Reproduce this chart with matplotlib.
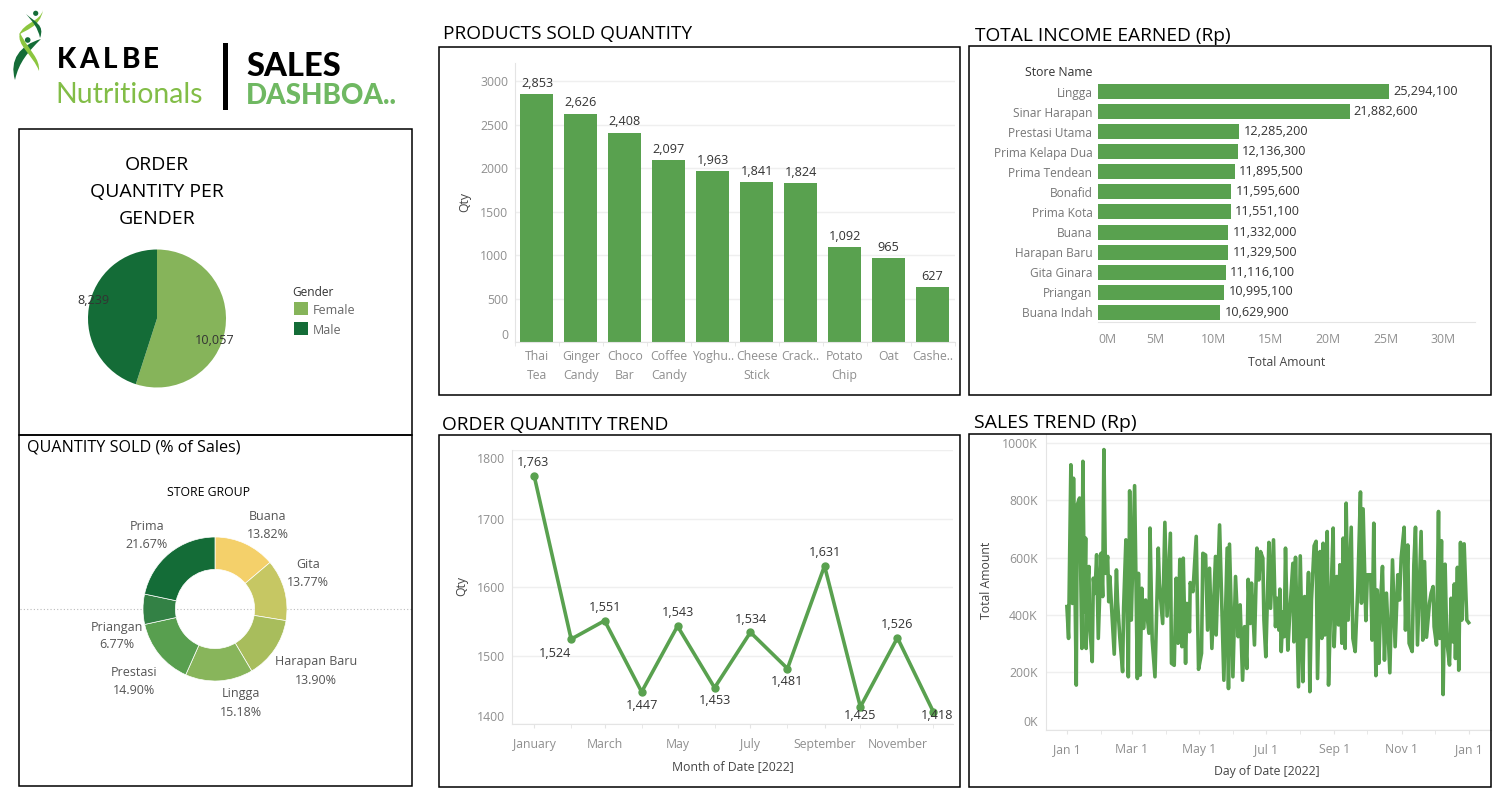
import matplotlib
matplotlib.use("Agg")
import matplotlib.pyplot as plt
from matplotlib.patches import Rectangle, Circle, PathPatch
from matplotlib.path import Path
from matplotlib.ticker import FuncFormatter

plt.rcParams['font.family'] = ['Open Sans', 'DejaVu Sans']

W, H = 1499, 799
GREEN = '#59a14f'
TICK = '#8f8f8f'
LABEL = '#444444'
GRID = '#efefef'
AXIS = '#e4e4e4'

# data
genders = ['Female', 'Male']
gender_qty = [10057, 8239]
gender_colors = ['#86b45a', '#146c37']

store_groups = ['Buana', 'Gita', 'Harapan Baru', 'Lingga', 'Prestasi', 'Priangan', 'Prima']
store_share = [13.82, 13.77, 13.90, 15.18, 14.90, 6.77, 21.67]
store_colors = ['#f4d06a', '#c6c763', '#a8bd5c', '#88b55b', '#589f4f', '#338145', '#146c37']

products = ['Thai\nTea', 'Ginger\nCandy', 'Choco\nBar', 'Coffee\nCandy', 'Yoghu..', 'Cheese\nStick',
            'Crack..', 'Potato\nChip', 'Oat', 'Cashe..']
product_qty = [2853, 2626, 2408, 2097, 1963, 1841, 1824, 1092, 965, 627]

stores = ['Lingga', 'Sinar Harapan', 'Prestasi Utama', 'Prima Kelapa Dua', 'Prima Tendean', 'Bonafid',
          'Prima Kota', 'Buana', 'Harapan Baru', 'Gita Ginara', 'Priangan', 'Buana Indah']
store_income = [25294100, 21882600, 12285200, 12136300, 11895500, 11595600,
                11551100, 11332000, 11329500, 11116100, 10995100, 10629900]

months = ['January', 'February', 'March', 'April', 'May', 'June', 'July', 'August',
          'September', 'October', 'November', 'December']
month_start = [0, 31, 59, 90, 120, 151, 181, 212, 243, 273, 304, 334]
month_qty = [1763, 1524, 1551, 1447, 1543, 1453, 1534, 1481, 1631, 1425, 1526, 1418]

# dia do ano e valor em milhares
sales_day = [0, 1.5, 3.6, 5, 6, 8.5, 9.4, 11.5, 13.6, 14.5, 16, 17, 17.5, 18.5, 20, 20.6, 23, 24, 25.5, 27,
             28.5, 31, 32.5, 33.6, 35, 37, 38, 39, 43, 45, 46, 48, 50.6, 51.5, 53.6, 55.8, 57, 58.5, 61.5, 64,
             65, 66.6, 68, 69.6, 71.5, 74.5, 75.5, 77.5, 80, 83, 84, 87, 89, 91, 94, 95, 97.5, 99.3, 101, 102.6,
             104.5, 105.7, 107.8, 109, 111.4, 112, 114.5, 117.5, 119.6, 122.3, 123.5, 126, 127.8, 129.6, 131.7, 135, 135.6, 138.7, 140, 142.6,
             145.6, 146.8, 147.7, 150.8, 153.2, 155.6, 157.4, 159.6, 161.4, 163.5, 164.7, 166.5, 167.7, 170.4, 172.6, 174.4, 175.9, 178, 179, 180.7,
             183.5, 185, 187.7, 189.5, 191, 192.6, 193.5, 194.7, 196.2, 197.4, 198.6, 200.7, 202.3, 205.3, 206.2, 207.7, 210.4, 212, 214.4, 215.9,
             217.4, 219.5, 220.7, 222.2, 224.6, 226.4, 227.7, 230, 231.6, 232.8, 234.3, 236.5, 237.7, 239.5, 241.9, 242.8, 245.2, 246.8, 248, 249.8,
             251, 252.8, 253.7, 255.5, 258.3, 259.8, 261.9, 264.3, 266.7, 267.6, 269.1, 271.6, 273, 276, 277.3, 278.8, 280.7, 281.9, 283.4, 285.2,
             286.7, 288.5, 290.3, 293.4, 295.8, 298.2, 300.6, 302.2, 303.7, 306.4, 307.6, 309.7, 310.9, 313.7, 315.2, 316.7, 318.5, 321.8, 323.3, 324.9,
             326.7, 329.4, 330.9, 332.7, 333.6, 335.8, 337.6, 338.8, 340.3, 341.8, 343.6, 345.1, 347.6, 349, 350.6, 352, 353, 354.8, 356, 357.6,
             358.8, 360.9, 363.3, 365]
sales_amount = [429, 318, 924, 440, 877, 155, 784, 808, 283, 936, 411, 668, 283, 499, 569, 370, 237, 528, 475, 610,
                318, 615, 464, 977, 545, 604, 446, 534, 263, 557, 446, 324, 202, 423, 662, 184, 833, 382, 851, 178,
                545, 190, 493, 353, 452, 336, 703, 312, 184, 633, 510, 370, 723, 396, 685, 231, 224, 528, 301, 594,
                289, 598, 231, 440, 341, 513, 481, 674, 210, 266, 615, 609, 347, 563, 283, 604, 330, 714, 534, 172,
                633, 143, 647, 184, 534, 324, 435, 172, 359, 213, 524, 370, 511, 295, 633, 522, 621, 598, 382, 254,
                653, 423, 662, 359, 458, 347, 490, 272, 411, 324, 633, 277, 394, 580, 306, 601, 149, 606, 167, 464,
                324, 548, 132, 452, 641, 657, 178, 621, 318, 650, 330, 691, 155, 411, 703, 289, 534, 365, 575, 301,
                668, 283, 790, 382, 706, 318, 272, 499, 829, 441, 770, 380, 540, 540, 312, 720, 188, 487, 231, 464,
                569, 242, 476, 198, 592, 289, 540, 452, 600, 706, 347, 644, 301, 272, 575, 706, 295, 691, 312, 586,
                322, 441, 476, 499, 359, 295, 761, 318, 659, 122, 577, 312, 225, 458, 306, 508, 248, 566, 207, 653,
                382, 648, 382, 373]
day_ticks = [0, 59, 120, 181, 243, 304, 365]
day_labels = ['Jan 1', 'Mar 1', 'May 1', 'Jul 1', 'Sep 1', 'Nov 1', 'Jan 1']

fig = plt.figure(figsize=(W / 100, H / 100), dpi=100, facecolor='white')


def ax_px(x0, y0, x1, y1, **kw):
    # eixo posicionado em pixels da imagem
    return fig.add_axes([x0 / W, 1 - y1 / H, (x1 - x0) / W, (y1 - y0) / H], **kw)


def clean(ax):
    ax.set_facecolor('none')
    for s in ax.spines.values():
        s.set_visible(False)
    for s in ['left', 'bottom']:
        ax.spines[s].set_visible(True)
        ax.spines[s].set_color(AXIS)
        ax.spines[s].set_linewidth(0.8)
    ax.set_axisbelow(True)
    ax.tick_params(length=0, labelsize=8.8, labelcolor=TICK)


# camada de fundo com molduras e textos
bg = ax_px(0, 0, W, H)
bg.set_xlim(0, W)
bg.set_ylim(H, 0)
bg.axis('off')
bg.set_zorder(5)


def txt(x, y, s, size=8.8, color=LABEL, ha='left', va='center', **kw):
    bg.text(x, y + 2, s, fontsize=size, color=color, ha=ha, va=va, **kw)


for (x0, y0, x1, y1) in [(19.5, 128.5, 412.5, 434.5), (19.5, 434.5, 412.5, 785.5), (439.5, 46.5, 960.5, 394.5),
                         (969.5, 45.5, 1491.5, 394.5), (439.5, 434.5, 960.5, 786.5), (969.5, 433.5, 1491.5, 786.5)]:
    bg.add_patch(Rectangle((x0, y0), x1 - x0, y1 - y0, fill=False, ec='black', lw=1.1))

txt(443, 32, 'PRODUCTS SOLD QUANTITY', 13.7, 'black')
txt(975, 34, 'TOTAL INCOME EARNED (Rp)', 13.8, 'black')
txt(442, 423, 'ORDER QUANTITY TREND', 13.8, 'black')
txt(974, 421, 'SALES TREND (Rp)', 14, 'black')
txt(27, 445, 'QUANTITY SOLD (% of Sales)', 11.6, 'black')

# logo e cabecalho
for letter, x in zip('KALBE', [57, 79, 103, 122, 143]):
    txt(x, 58, letter, 20, 'black', fontweight='black', family='Lato')
txt(55, 93, 'Nutritionals', 20.4, '#82bd47', family='Lato')
bg.add_patch(Rectangle((223, 43), 5, 67, fc='black', ec='none'))
txt(246, 64, 'SALES', 23.5, 'black', fontweight='black', family='Lato')
txt(246, 94, 'DASHBOA..', 20, '#6fb862', fontweight='black', family='Lato')


def swoosh(pts, color):
    codes = [Path.MOVETO] + [Path.CURVE4] * (len(pts) - 2) + [Path.CLOSEPOLY]
    bg.add_patch(PathPatch(Path(pts, codes), fc=color, ec='none'))


swoosh([(15, 80), (9, 60), (20, 45), (41, 39), (28, 52), (19, 62), (15, 80), (15, 80)], '#146c37')
swoosh([(39, 71), (40, 58), (30, 52), (20, 33), (16, 45), (33, 55), (39, 71), (39, 71)], '#8cc63f')
swoosh([(43, 10), (40, 22), (24, 22), (19, 35), (24, 30), (40, 28), (43, 10), (43, 10)], '#8cc63f')
swoosh([(26, 14), (35, 22), (45, 25), (40, 38), (38, 28), (33, 22), (26, 14), (26, 14)], '#146c37')
bg.add_patch(Circle((35.7, 13.3), 2.6, fc='#146c37', ec='none'))
bg.add_patch(Circle((27.7, 40), 2.8, fc='#146c37', ec='none'))

# pizza por genero
ax = ax_px(88, 249.5, 226, 387.5)
ax.pie(gender_qty, colors=gender_colors, startangle=90, counterclock=False, radius=1.0,
       wedgeprops={'linewidth': 0})
ax.set_xlim(-1, 1)
ax.set_ylim(-1, 1)
for i, line in enumerate(['ORDER', 'QUANTITY PER', 'GENDER']):
    txt(157, 163 + 27 * i, line, 14, 'black', ha='center')
txt(215, 339, f'{gender_qty[0]:,}', 9.1, '#333333', ha='center')
txt(93, 299, f'{gender_qty[1]:,}', 9.1, '#333333', ha='center')
txt(292, 290, 'Gender', 8.6, '#333333')
for i, (g, c) in enumerate(zip(genders, gender_colors)):
    bg.add_patch(Rectangle((294, 302 + 20 * i), 14, 13, fc=c, ec='none'))
    txt(313, 308 + 20 * i, g, 9, '#666666')

# rosca por grupo de loja
bg.plot([20, 412], [609, 609], color='#bbbbbb', lw=0.8, ls=(0, (1, 2)), zorder=0)
ax = ax_px(143, 537, 287, 681)
ax.pie(store_share, colors=store_colors, startangle=90, counterclock=False, radius=1.0,
       wedgeprops={'width': 0.45, 'linewidth': 0.5, 'edgecolor': 'white'})
ax.set_xlim(-1, 1)
ax.set_ylim(-1, 1)
ax.set_zorder(6)
txt(209, 490, 'STORE GROUP', 8.8, 'black', ha='center')
store_label_xy = [(268, 524), (308, 572), (316, 669), (241, 701), (134, 679), (117, 634), (147, 533)]
for name, share, (x, y) in zip(store_groups, store_share, store_label_xy):
    txt(x, y - 9, name, 9, '#555555', ha='center')
    txt(x, y + 9, f'{share:.2f}%', 9, '#555555', ha='center')

# barras de produtos
ax = ax_px(515, 63, 955, 342)
clean(ax)
bars = ax.bar(range(len(products)), product_qty, width=0.75, color=GREEN)
for b, v in zip(bars, product_qty):
    ax.annotate(f'{v:,}', (b.get_x() + b.get_width() / 2, v), xytext=(0, 7.6), textcoords='offset points',
                ha='center', va='center', fontsize=9.1, color='#333333', annotation_clip=False)
ax.set_xlim(-0.49, 9.51)
ax.set_ylim(0, 279 / 0.087)
ax.set_yticks(range(0, 3001, 500))
ax.grid(axis='y', color=GRID, lw=1)
ax.set_xticks(range(len(products)))
ax.set_xticklabels(products, linespacing=1.6)
ax.set_xticks([i - 0.5 for i in range(len(products) + 1)], minor=True)
ax.tick_params(axis='x', which='minor', length=3, color=AXIS)
ax.tick_params(axis='x', pad=6)
ax.tick_params(axis='y', pad=5)
ax.get_yticklabels()[0].set_va('bottom')
txt(465, 200, 'Qty', 8.8, '#444444', ha='center', rotation=90)

# barras horizontais de receita
ax = ax_px(1098, 82, 1475, 322)
clean(ax)
ax.spines['left'].set_visible(False)
pos = list(range(len(stores)))
ax.barh(pos, store_income, height=0.75, color=GREEN)
for p, v in zip(pos, store_income):
    ax.annotate(f'{v:,}', (v, p), xytext=(3, 0), textcoords='offset points', ha='left', va='center',
                fontsize=9.1, color='#333333')
ax.set_ylim(len(stores) - 0.5, -0.5)
ax.set_xlim(0, 377 / 11.5 * 1e6)
ax.set_yticks(pos)
ax.set_yticklabels(stores, fontsize=8.6)
ax.set_xticks([m * 1e6 for m in range(0, 31, 5)])
ax.xaxis.set_major_formatter(FuncFormatter(lambda v, _: f'{v / 1e6:.0f}M'))
ax.tick_params(axis='y', pad=4, labelcolor='#777777')
ax.tick_params(axis='x', pad=8)
ax.get_xticklabels()[0].set_ha('left')
txt(1092, 71, 'Store Name', 8.8, '#333333', ha='right')
txt(1287, 361, 'Total Amount', 8.8, '#444444', ha='center')

# tendencia mensal
ax = ax_px(512, 450.3, 953, 724)
clean(ax)
ax.plot(month_start, month_qty, color=GREEN, lw=2.6, marker='o', ms=5, clip_on=False, zorder=3)
ax.set_xlim(-18.5, 350.5)
ax.set_ylim(1400, 1800)
ax.set_yticks([1400, 1500, 1600, 1700, 1800])
ax.set_yticklabels(['1400', '1500', '1600', '1700', ''])
ax.grid(axis='y', color=GRID, lw=1)
ax.set_xticks(month_start[::2])
ax.set_xticklabels(months[::2])
ax.set_xticks(month_start[1::2], minor=True)
ax.tick_params(axis='x', which='both', length=3, color=AXIS)
ax.tick_params(axis='x', pad=7)
ax.tick_params(axis='y', pad=5)
ax.get_yticklabels()[0].set_va('bottom')
txt(505, 457.5, '1800', 8.8, TICK, ha='right')
# deslocamento dos rotulos em pontos (x, y)
month_label_off = [(-1, 9.5), (-12, -10), (0, 9.5), (0, -9.5), (0, 9.5), (0, -9.5),
                   (0, 9.5), (0, -9.5), (0, 9.5), (-0.5, -6.5), (0, 9.5), (2.7, -3)]
for x, v, off in zip(month_start, month_qty, month_label_off):
    ax.annotate(f'{v:,}', (x, v), xytext=off, textcoords='offset points', ha='center', va='center',
                fontsize=9.1, color='#333333', annotation_clip=False, zorder=4)
txt(462, 584, 'Qty', 8.8, '#444444', ha='center', rotation=90)
txt(733, 765, 'Month of Date [2022]', 8.8, '#444444', ha='center')

# tendencia diaria
ax = ax_px(1046, 434, 1491, 729.5)
clean(ax)
ax.plot(sales_day, sales_amount, color=GREEN, lw=2.6, solid_joinstyle='round')
ax.set_xlim(-19, 385.3)
ax.set_ylim(0, 295.5 / 0.2865)
ax.set_yticks(range(0, 1001, 200))
ax.yaxis.set_major_formatter(FuncFormatter(lambda v, _: f'{v:.0f}K'))
ax.grid(axis='y', color=GRID, lw=1)
ax.set_xticks(day_ticks)
ax.set_xticklabels(day_labels)
ax.set_xticks(month_start[1::2], minor=True)
ax.tick_params(axis='x', which='both', length=3, color=AXIS)
ax.tick_params(axis='x', pad=7)
ax.tick_params(axis='y', pad=6)
ax.get_yticklabels()[0].set_va('bottom')
txt(987, 578, 'Total Amount', 8.8, '#444444', ha='center', rotation=90)
txt(1267, 770, 'Day of Date [2022]', 8.8, '#444444', ha='center')

fig.savefig('out.png', dpi=100)
